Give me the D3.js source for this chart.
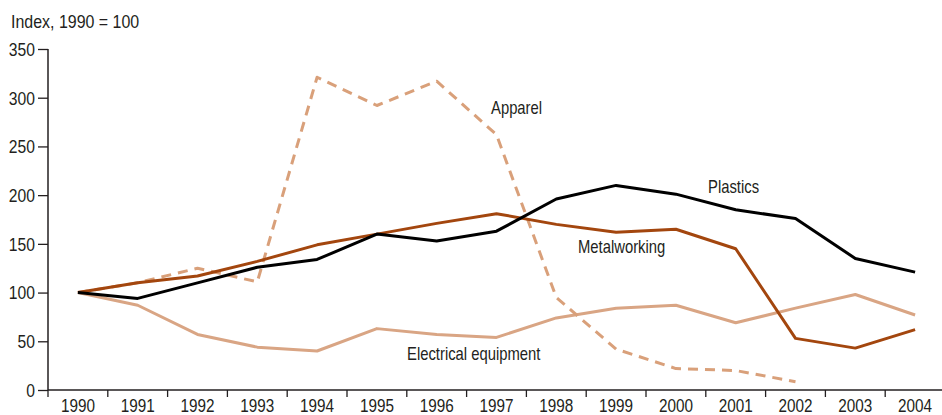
<!DOCTYPE html>
<html>
<head>
<meta charset="utf-8">
<script src="https://cdn.jsdelivr.net/npm/d3@7"></script>
<style>
  html, body { margin: 0; padding: 0; background: #fff; }
  svg text { font-family: "Liberation Sans", Arial, sans-serif; fill: #231f20; }
</style>
</head>
<body>
<svg id="chart" width="942" height="415"></svg>
<script>
const years = ["1990","1991","1992","1993","1994","1995","1996","1997","1998","1999","2000","2001","2002","2003","2004"];
const plastics = [100, 94, 110, 126, 134, 160, 153, 163, 196, 210, 201, 185, 176, 135, 121];
const metalworking = [100, 110, 117, 132, 149, 160, 171, 181, 170, 162, 165, 145, 53, 43, 62];
const electrical = [100, 87, 57, 44, 40, 63, 57, 54, 74, 84, 87, 69, 84, 98, 77];
const apparel = [100, 110, 125, 111, 321, 292, 317, 262, 95, 42, 22, 20, 8.5];
const yTicks = [0, 50, 100, 150, 200, 250, 300, 350];
const yTitle = "Index, 1990 = 100";

const series = [
  { name: "Electrical equipment", values: electrical, color: "#d9a584", dash: null, label: [407, 360] },
  { name: "Apparel", values: apparel, color: "#d9a07a", dash: "10,7", label: [491, 114] },
  { name: "Metalworking", values: metalworking, color: "#a3460e", dash: null, label: [578, 253] },
  { name: "Plastics", values: plastics, color: "#000000", dash: null, label: [708, 193] }
];

const svg = d3.select("#chart");
const x = d3.scaleBand().domain(years).range([48, 945]);
const y = d3.scaleLinear().domain([0, 350]).range([390, 49]);

function condense(sel, factor) {
  sel.each(function() {
    const w = this.getComputedTextLength();
    d3.select(this).attr("textLength", w * factor).attr("lengthAdjust", "spacingAndGlyphs");
  });
}

// y axis
const yAxis = d3.axisLeft(y).tickValues(yTicks).tickSize(10).tickPadding(3);
const gy = svg.append("g").attr("transform", "translate(48,0)").call(yAxis);
gy.select(".domain").attr("stroke", "#231f20").attr("stroke-width", 1.5).attr("d", "M0,49V390");
gy.selectAll(".tick line").attr("stroke", "#231f20").attr("stroke-width", 1.3);
gy.selectAll(".tick text").attr("font-size", 18).attr("dy", "0.35em");
condense(gy.selectAll(".tick text"), 0.87);

// x axis
const xAxis = d3.axisBottom(x).tickSize(0).tickPadding(9);
const gx = svg.append("g").attr("transform", "translate(0,390)").call(xAxis);
gx.select(".domain").attr("stroke", "#231f20").attr("stroke-width", 1.5).attr("d", "M48,0H945");
gx.selectAll(".tick text").attr("font-size", 18);
condense(gx.selectAll(".tick text"), 0.85);
// band boundary ticks
gx.selectAll(".bandtick").data(years).enter().append("line")
  .attr("class", "bandtick")
  .attr("x1", d => x(d)).attr("x2", d => x(d))
  .attr("y1", 0).attr("y2", 7)
  .attr("stroke", "#231f20").attr("stroke-width", 1.3);

// title
const title = svg.append("text").attr("x", 11).attr("y", 28).attr("font-size", 19).text(yTitle);
condense(title, 0.84);

const line = d3.line()
  .x((d, i) => x(years[i]) + x.bandwidth() / 2)
  .y(d => y(d));

series.forEach(s => {
  svg.append("path")
    .attr("d", line(s.values))
    .attr("fill", "none")
    .attr("stroke", s.color)
    .attr("stroke-width", 3)
    .attr("stroke-linejoin", "round")
    .attr("stroke-dasharray", s.dash);
  const t = svg.append("text").attr("x", s.label[0]).attr("y", s.label[1]).attr("font-size", 19).text(s.name);
  condense(t, 0.78);
});
</script>
</body>
</html>
